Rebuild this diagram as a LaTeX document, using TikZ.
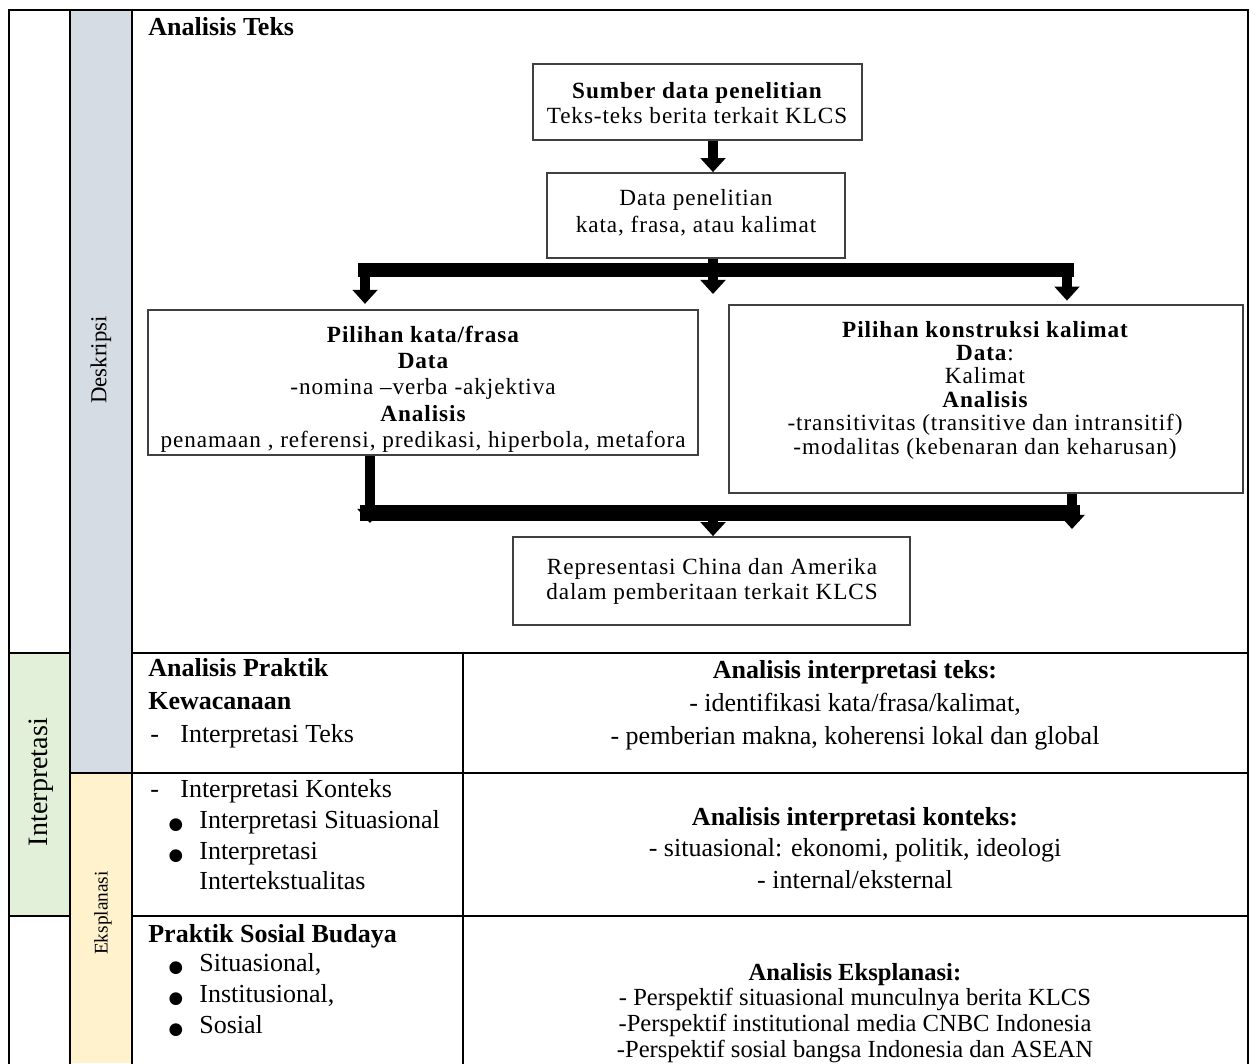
\documentclass[tikz,border=0pt]{standalone}
\usepackage{fontspec}
\setmainfont{Liberation Serif}
\newfontfamily\flowfont[LetterSpace=4]{Liberation Serif}
\newfontfamily\symfont{DejaVu Sans}
\usetikzlibrary{arrows.meta,fit}
\definecolor{deskgray}{HTML}{D6DCE4}
\definecolor{intgreen}{HTML}{E2EFD9}
\definecolor{ekspyellow}{HTML}{FFF2CC}
\begin{document}
\begin{tikzpicture}[x=0.02cm,y=-0.02cm,
  tbl/.style={line width=1.4pt,line cap=rect},
  fbox/.style={draw=black!75,line width=1pt,inner sep=0pt},
  ftext/.style={font=\flowfont\fontsize{13.2}{#1}\selectfont,align=center,inner sep=0pt},
  ftext/.default=14.7,
  ltext/.style={font=\fontsize{14.8}{18}\selectfont,anchor=mid west,inner sep=0pt},
  ctext/.style={font=\fontsize{14.8}{#1}\selectfont,align=center,inner sep=0pt},
  bul/.style={font=\symfont\fontsize{9.5}{10}\selectfont,inner sep=0pt},
  blk/.style={line width=5.5pt,-{Triangle[length=8pt,width=14pt]}},
  bar/.style={line width=8.5pt},
  vlab/.style={rotate=90,inner sep=0pt}]
\useasboundingbox (0,0) rectangle (1255,1063);
% ---- coloured columns
\fill[deskgray] (70,10) rectangle (132,773);
\fill[ekspyellow] (70,773) rectangle (132,1063);
\fill[intgreen] (9,653) rectangle (70,916);
% ---- table grid
\draw[tbl] (9,1063) -- (9,10) -- (1248,10) -- (1248,1063);
\draw[tbl] (70,10) -- (70,1063);
\draw[tbl] (132,10) -- (132,1063);
\draw[tbl] (9,653) -- (70,653);
\draw[tbl] (132,653) -- (1248,653);
\draw[tbl] (70,773) -- (1248,773);
\draw[tbl] (9,916) -- (70,916);
\draw[tbl] (132,916) -- (1248,916);
\draw[tbl] (463,653) -- (463,1063);
% ---- side labels
\node[vlab,font=\fontsize{13}{14}\selectfont] (lDesk) at (101,360) {Deskripsi};
\node[vlab,font=\fontsize{16}{18}\selectfont] (lInt) at (41,782) {Interpretasi};
\node[vlab,font=\fontsize{11}{12}\selectfont] (lEks) at (103,913) {Eksplanasi};
% ---- title
\node[ltext,font=\bfseries\fontsize{14.8}{18}\selectfont] (title) at (148,31) {Analisis Teks};
% ---- flowchart boxes
\node[fbox,fit={(533,64) (862,140)}] (b1) {};
\node[fbox,fit={(547,173) (845,258)}] (b2) {};
\node[fbox,fit={(148,310) (698,455)}] (b3) {};
\node[fbox,fit={(729,305) (1243,493)}] (b4) {};
\node[fbox,fit={(513,537) (910,625)}] (b5) {};
\node[ftext=14.7] (t1) at (697,103) {\bfseries Sumber data penelitian\\Teks-teks berita terkait KLCS};
\node[ftext=15.3] (t2) at (696,213) {Data penelitian\\kata, frasa, atau kalimat};
\node[ftext=15] (t3) at (423,389) {\bfseries Pilihan kata/frasa\\\bfseries Data\\-nomina –verba -akjektiva\\\bfseries Analisis\\penamaan , referensi, predikasi, hiperbola, metafora};
\node[ftext=13.3] (t4) at (985,390) {\bfseries Pilihan konstruksi kalimat\\\textbf{Data}:\\Kalimat\\\bfseries Analisis\\-transitivitas (transitive dan intransitif)\\-modalitas (kebenaran dan keharusan)};
\node[ftext=14.2] (t5) at (712,581) {Representasi China dan Amerika\\dalam pemberitaan terkait KLCS};
% ---- connector points
\coordinate (xa) at (713,0);
\coordinate (xl) at (365,0);
\coordinate (xr) at (1067,0);
\coordinate (sl) at (358,270);
\coordinate (sc) at (713,270);
\coordinate (sr) at (1074,270);
\coordinate (sce) at (713,294);
\coordinate (jl) at (370,523);
\coordinate (jlb) at (360,513);
\coordinate (jc) at (713,513);
\coordinate (jrb) at (1080,513);
\coordinate (jr) at (1072,529);
\coordinate (xl2) at (370,0);
\coordinate (xr2) at (1072,0);
% ---- arrows
\draw[blk] (b1.south -| xa) -- (b2.north -| xa);
\draw[line width=5.5pt] (b2.south -| xa) -- (sc);
\draw[bar] (sl) -- (sr);
\draw[blk] (sl -| xl) -- ([yshift=3pt]b3.north -| xl);
\draw[blk] (sr -| xr) -- ([yshift=2pt]b4.north -| xr);
\draw[blk] (sc) -- (sce);
\draw[blk] (b3.south -| xl2) -- (jl);
\draw[blk] (b4.south -| xr2) -- (jr);
\draw[line width=9.5pt] (jlb) -- (jrb);
\draw[blk] (jc) -- (b5.north -| xa);
% ---- lower table, left cells
\node[ltext,font=\bfseries\fontsize{14.8}{18}\selectfont] (p1) at (148,672) {Analisis Praktik};
\node[ltext,font=\bfseries\fontsize{14.8}{18}\selectfont] (p2) at (148,705) {Kewacanaan};
\node[ltext] (d1) at (150,738) {-};
\node[ltext] (p3) at (180,738) {Interpretasi Teks};
\node[ltext] (d2) at (150,793) {-};
\node[ltext] (p4) at (180,793) {Interpretasi Konteks};
\node[bul] (u1) at (176,825) {●};
\node[ltext] (p5) at (199,824) {Interpretasi Situasional};
\node[bul] (u2) at (176,856) {●};
\node[ltext] (p6) at (199,855) {Interpretasi};
\node[ltext] (p7) at (199,885) {Intertekstualitas};
\node[ltext,font=\bfseries\fontsize{14.8}{18}\selectfont] (p8) at (148,938) {Praktik Sosial Budaya};
\node[bul] (u3) at (176,968) {●};
\node[ltext] (p9) at (199,967) {Situasional,};
\node[bul] (u4) at (176,999) {●};
\node[ltext] (p10) at (199,998) {Institusional,};
\node[bul] (u5) at (176,1030) {●};
\node[ltext] (p11) at (199,1029) {Sosial};
% ---- lower table, right cells
\node[ctext=18.7] (r1) at (855,705) {\textbf{Analisis interpretasi teks:}\\- identifikasi kata/frasa/kalimat,\\- pemberian makna, koherensi lokal dan global};
\node[ctext=18] (r2) at (855,848) {\textbf{Analisis interpretasi konteks:}\\- situasional: ekonomi, politik, ideologi\\- internal/eksternal};
\node[ctext=14.7,font=\fontsize{14}{14.7}\selectfont] (r3) at (855,1013) {\textbf{Analisis Eksplanasi:}\\- Perspektif situasional munculnya berita KLCS\\-Perspektif institutional media CNBC Indonesia\\-Perspektif sosial bangsa Indonesia dan ASEAN};
\end{tikzpicture}
\end{document}
